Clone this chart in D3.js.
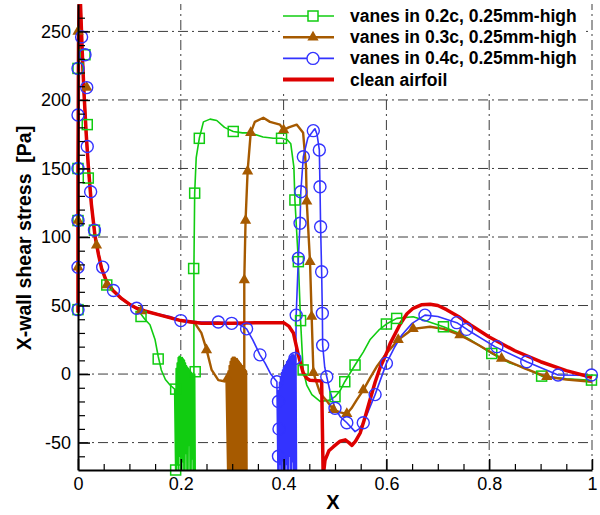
<!DOCTYPE html>
<html><head><meta charset="utf-8">
<script src="https://cdn.jsdelivr.net/npm/d3@7"></script>
<style>body{margin:0;background:#fff;} svg{display:block;font-family:"Liberation Sans",Arial,sans-serif;}</style>
</head><body><svg id="chart" width="600" height="515"></svg>
<script>
// ---------- data ----------
const xTicks = [0, 0.2, 0.4, 0.6, 0.8, 1];
const xTickLabels = ["0", "0.2", "0.4", "0.6", "0.8", "1"];
const xMinorTicks = [0.05,0.1,0.15,0.25,0.3,0.35,0.45,0.5,0.55,0.65,0.7,0.75,0.85,0.9,0.95];
const yTicks = [-50, 0, 50, 100, 150, 200, 250];
const yTickLabels = ["-50", "0", "50", "100", "150", "200", "250"];
const yMinorTicks = [-60,-40,-30,-20,-10,10,20,30,40,60,70,80,90,110,120,130,140,160,170,180,190,210,220,230,240,260];
const seriesNames = ["vanes in 0.2c, 0.25mm-high", "vanes in 0.3c, 0.25mm-high", "vanes in 0.4c, 0.25mm-high", "clean airfoil"];

const leadingEdge = [[0,45],[0,150],[0.001,240],[0.003,290],[0.006,258],[0.009,228],[0.0117,205],[0.016,175],[0.02,152],[0.026,124],[0.033,101],[0.04,87],[0.046,77],[0.055,68],[0.068,61],[0.085,55],[0.1,51],[0.114,48]];

const cleanTail = [[0.13,46],[0.16,43],[0.18,41],[0.2,39],[0.24,37],[0.3,37],[0.36,37.5],[0.4,37.5],[0.41,35],[0.419,30],[0.425,20],[0.4286,14],[0.438,1],[0.445,-3],[0.451,-4.5],[0.474,-5],[0.4755,-40],[0.477,-75],[0.4805,-63],[0.488,-56],[0.497,-53],[0.51,-49],[0.52,-48],[0.527,-50],[0.533,-52],[0.54,-49],[0.549,-43],[0.558,-32],[0.568,-19],[0.578,-6],[0.588,5],[0.6,15],[0.607,22],[0.626,36],[0.64,44],[0.652,48],[0.668,50.5],[0.685,51],[0.7,50],[0.717,47],[0.74,42],[0.763,36],[0.8,27],[0.82,23],[0.85,17],[0.9,9],[0.95,2.5],[1,-2.5]];

const green02Tail = [[0.122,44],[0.13,40],[0.14,36],[0.15,25],[0.156,13],[0.162,3],[0.17,-4],[0.179,-8],[0.188,-11],
 [0.190,-70],[0.191,4],[0.192,-70],[0.193,8],[0.194,-66],[0.195,12],[0.196,-70],[0.197,13],[0.198,-60],[0.199,13],[0.200,-70],[0.201,12],[0.202,-70],[0.203,12],[0.204,-64],[0.205,11],[0.206,-70],[0.207,10],[0.208,-70],[0.209,8],[0.210,-58],[0.211,6],[0.212,-70],[0.213,5],[0.214,-70],[0.215,4],[0.216,-52],[0.217,3],[0.218,-70],[0.219,2],[0.220,-70],[0.221,1],[0.222,-62],[0.223,0],[0.224,-70],[0.225,1],[0.226,-70],[0.227,0],[0.228,-70],[0.2255,-70],
 [0.2255,20],[0.2255,77],[0.227,132],[0.23,158],[0.236,172],[0.244,184],[0.257,186],[0.27,185],[0.285,180],[0.302,177],[0.32,176],[0.334,176],[0.36,173],[0.38,172],[0.396,172],[0.407,171],[0.414,168],[0.42,151],[0.422,127],[0.4287,82],[0.433,39],[0.438,3],[0.445,-8],[0.455,-15],[0.471,-20],[0.49,-19],[0.5,-16.5],[0.51,-12],[0.519,-5.6],[0.539,6.6],[0.555,16],[0.568,25],[0.585,32],[0.6,36.5],[0.62,40.6],[0.652,41.8],[0.672,39.4],[0.711,34.5],[0.74,30],[0.763,25],[0.805,15],[0.84,8],[0.866,5],[0.902,-1.5],[0.95,-3.5],[1,-4.5]];

const brown03Tail = [[0.13,46],[0.16,43],[0.2,39],[0.2276,37],[0.24,30],[0.25,18],[0.26,3],[0.273,-4.4],[0.289,-5.6],
 [0.292,-70],[0.293,2],[0.294,-70],[0.295,6],[0.296,-66],[0.297,9],[0.298,-70],[0.299,11],[0.300,-70],[0.301,12],[0.302,-62],[0.303,12],[0.304,-70],[0.305,12],[0.306,-70],[0.307,11],[0.308,-68],[0.309,11],[0.310,-70],[0.311,10],[0.312,-70],[0.313,9],[0.314,-60],[0.315,8],[0.316,-70],[0.317,7],[0.318,-70],[0.319,6],[0.320,-64],[0.321,5],[0.322,-70],[0.323,4],[0.324,-70],[0.325,3],[0.326,-70],[0.327,2],[0.328,-70],[0.3235,-70],
 [0.3235,40],[0.3235,68.6],[0.326,112],[0.33,148],[0.336,176],[0.344,184],[0.3606,187],[0.3735,184],[0.393,182],[0.4,178],[0.41,180],[0.4254,182],[0.438,176],[0.4436,151],[0.445,126],[0.4514,82],[0.4546,42],[0.458,1],[0.464,-6],[0.471,-14],[0.485,-20],[0.497,-26],[0.51,-28],[0.523,-29],[0.532,-25],[0.542,-19],[0.555,-11.7],[0.568,-3],[0.581,5.3],[0.6,15],[0.623,25],[0.652,33],[0.685,34.5],[0.711,33],[0.743,28.5],[0.78,21],[0.824,11.4],[0.87,4],[0.912,-2],[0.95,-4],[1,-5.6]];

const blue04Tail = [[0.14,45],[0.179,42],[0.2,39],[0.24,38],[0.273,38],[0.299,37],[0.315,36],[0.328,33],[0.34,25],[0.354,14],[0.364,8],[0.375,0],[0.387,-5.6],
 [0.389,-70],[0.390,-12],[0.391,-70],[0.392,-6],[0.393,-66],[0.394,-2],[0.395,-70],[0.396,1],[0.397,-70],[0.398,3],[0.399,-62],[0.400,5],[0.401,-70],[0.402,6],[0.403,-70],[0.404,7],[0.405,-66],[0.406,9],[0.407,-70],[0.408,10],[0.409,-70],[0.410,11],[0.411,-60],[0.412,12],[0.413,-70],[0.414,13],[0.415,-70],[0.416,14],[0.417,-64],[0.418,14],[0.419,-70],[0.420,14],[0.421,-70],[0.422,13],[0.423,-70],[0.424,12],[0.425,-70],[0.4235,-70],
 [0.4235,11],[0.4245,43],[0.4287,84.5],[0.432,110],[0.4335,133],[0.4384,158.6],[0.447,172],[0.4578,177.6],[0.461,179],[0.465,175],[0.4695,163.5],[0.4708,136.7],[0.472,107.5],[0.474,74.7],[0.4754,44.3],[0.476,21],[0.48,5],[0.484,-2],[0.49,-12],[0.5,-25],[0.51,-31],[0.523,-35.5],[0.539,-42],[0.547,-40],[0.555,-35.5],[0.565,-27],[0.578,-15],[0.6,7.8],[0.615,19],[0.63,28.5],[0.65,37],[0.675,43],[0.7,42],[0.737,37.5],[0.759,32],[0.811,20],[0.873,9],[0.934,-0.7],[1,-1]];

const greenMarks = [[0,47],[0,112],[0,150],[0,223],[0.0136,233],[0.018,182],[0.02,143],[0.032,105],[0.056,65],[0.1226,42],[0.156,11],[0.19,-11],[0.19,-70],[0.228,1.7],[0.225,77],[0.227,132],[0.236,172],[0.302,177],[0.396,172],[0.422,127],[0.4287,82],[0.433,39],[0.438,3],[0.5,-16.5],[0.519,-5.6],[0.539,6.6],[0.6,36.5],[0.62,40.6],[0.711,34.5],[0.805,15],[0.902,-1.5],[0.999,-4.4]];
const brownMarks = [[0,250],[0,112],[0,78],[0.017,209],[0.036,94],[0.056,65],[0.1226,46],[0.25,17.5],[0.291,-3],[0.3235,68.6],[0.326,112],[0.33,148],[0.336,176],[0.4,178],[0.445,126],[0.4514,82],[0.4546,42],[0.458,1],[0.497,-26],[0.523,-29],[0.555,-11.7],[0.623,25],[0.652,33],[0.743,28.5],[0.824,11.4],[0.912,-2]];
const blueMarks = [[0,47],[0,78],[0,112],[0,150],[0,189],[0,223],[0.007,246],[0.0136,233],[0.017,209],[0.018,166],[0.0246,133],[0.032,105],[0.048,78],[0.069,61],[0.114,48],[0.2,39],[0.273,38],[0.299,37],[0.328,33],[0.354,14],[0.387,-5.6],[0.39,-20],[0.391,-40],[0.39,-60],[0.422,11.4],[0.4245,43],[0.4287,84.5],[0.432,110],[0.4335,133],[0.4384,158.6],[0.4578,177.6],[0.4695,163.5],[0.4708,136.7],[0.472,107.5],[0.474,74.7],[0.4754,44.3],[0.476,21],[0.484,-2],[0.5,-25],[0.523,-35.5],[0.555,-35.5],[0.578,-15],[0.6,7.8],[0.675,43],[0.737,37.5],[0.756,32.6],[0.815,20],[0.873,9],[0.934,-0.7],[0.999,-0.7]];

const clean = leadingEdge.concat(cleanTail);
const vanes02 = leadingEdge.concat(green02Tail);
const vanes03 = leadingEdge.concat(brown03Tail);
const vanes04 = leadingEdge.concat(blue04Tail);

// ---------- drawing ----------
const colors = ["#11cc11", "#a65a00", "#3333ff", "#dd0000"];
const svg = d3.select("#chart");
const x = d3.scaleLinear().domain([0, 1]).range([78, 592]);
const y = d3.scaleLinear().domain([-70, 270]).range([470, 4]);

svg.append("defs").append("clipPath").attr("id", "plotclip")
  .append("rect").attr("x", 76).attr("y", y(270)).attr("width", 520).attr("height", y(-70) - y(270));

// gridlines
const grid = svg.append("g").attr("stroke", "#3c3c3c").attr("stroke-width", 1).attr("stroke-dasharray", "10,4,2,4");
grid.selectAll(".vg").data(xTicks.filter(d => d > 0)).join("line")
  .attr("x1", d => x(d)).attr("x2", d => x(d)).attr("y1", y(-70)).attr("y2", y(270));
grid.selectAll(".hg").data(yTicks).join("line")
  .attr("x1", x(0)).attr("x2", x(1)).attr("y1", d => y(d)).attr("y2", d => y(d));

// legend background
svg.append("rect").attr("x", 280).attr("y", 0).attr("width", 306).attr("height", 93).attr("fill", "#fff");

const line = d3.line().x(d => x(d[0])).y(d => y(d[1]));
const plot = svg.append("g").attr("clip-path", "url(#plotclip)");
plot.append("path").datum(vanes02).attr("d", line).attr("fill", "none").attr("stroke", colors[0]).attr("stroke-width", 1.6).attr("stroke-linejoin", "round");
plot.append("path").datum(vanes03).attr("d", line).attr("fill", "none").attr("stroke", colors[1]).attr("stroke-width", 2.4).attr("stroke-linejoin", "round");
plot.append("path").datum(vanes04).attr("d", line).attr("fill", "none").attr("stroke", colors[2]).attr("stroke-width", 1.6).attr("stroke-linejoin", "round");

const inRange = d => d[1] >= -71 && d[1] <= 271;
const mk = svg.append("g");
mk.selectAll(".sq").data(greenMarks.filter(inRange)).join("rect")
  .attr("x", d => x(d[0]) - 5).attr("y", d => y(d[1]) - 5).attr("width", 10).attr("height", 10)
  .attr("fill", "none").attr("stroke", colors[0]).attr("stroke-width", 1.5);
mk.selectAll(".tr").data(brownMarks.filter(inRange)).join("path")
  .attr("d", d3.symbol(d3.symbolTriangle, 55)).attr("transform", d => `translate(${x(d[0])},${y(d[1])})`)
  .attr("fill", colors[1]);
mk.selectAll(".ci").data(blueMarks.filter(inRange)).join("circle")
  .attr("cx", d => x(d[0])).attr("cy", d => y(d[1])).attr("r", 6)
  .attr("fill", "none").attr("stroke", colors[2]).attr("stroke-width", 1.4);

plot.append("path").datum(clean).attr("d", line).attr("fill", "none").attr("stroke", colors[3]).attr("stroke-width", 3.5).attr("stroke-linejoin", "round");

// axes
const axStyle = g => {
  g.select(".domain").attr("stroke", "#000").attr("stroke-width", 2);
  g.selectAll(".tick line").attr("stroke", "#000").attr("stroke-width", 1.5);
  g.selectAll("text").attr("fill", "#000").attr("font-size", 18).attr("font-family", "'Liberation Sans', Arial, sans-serif");
};
svg.append("g").attr("transform", `translate(0,${y(-70)})`)
  .call(d3.axisBottom(x).tickValues(xMinorTicks).tickSizeInner(-6).tickSizeOuter(0).tickFormat(""))
  .call(g => g.select(".domain").remove())
  .call(g => g.selectAll(".tick line").attr("stroke", "#000").attr("stroke-width", 1.2));
svg.append("g").attr("transform", `translate(${x(0)},0)`)
  .call(d3.axisLeft(y).tickValues(yMinorTicks).tickSizeInner(-7).tickSizeOuter(0).tickFormat(""))
  .call(g => g.select(".domain").remove())
  .call(g => g.selectAll(".tick line").attr("stroke", "#000").attr("stroke-width", 1.2));
svg.append("g").attr("transform", `translate(0,${y(-70)})`)
  .call(d3.axisBottom(x).tickValues(xTicks).tickFormat((d, i) => xTickLabels[i]).tickSizeInner(-11).tickSizeOuter(0).tickPadding(7))
  .call(axStyle);
svg.append("g").attr("transform", `translate(${x(0)},0)`)
  .call(d3.axisLeft(y).tickValues(yTicks).tickFormat((d, i) => yTickLabels[i]).tickSizeInner(-12).tickSizeOuter(0).tickPadding(7))
  .call(axStyle);

// titles
svg.append("text").attr("x", 333).attr("y", 509).attr("text-anchor", "middle")
  .attr("font-size", 20).attr("font-weight", "bold").text("X");
svg.append("text").attr("transform", "translate(31,238) rotate(-90)").attr("text-anchor", "middle")
  .attr("font-size", 19.5).attr("font-weight", "bold").attr("xml:space", "preserve").style("white-space", "pre")
  .text("X-wall shear stress  [Pa]");

// legend
const legendRows = [0, 1, 2, 3];
const leg = svg.append("g");
const rowY = i => 16 + i * 21.2;
leg.selectAll(".ll").data(legendRows).join("line")
  .attr("x1", 283).attr("x2", 334).attr("y1", i => rowY(i)).attr("y2", i => rowY(i))
  .attr("stroke", i => colors[i]).attr("stroke-width", i => [1.6, 2.4, 1.6, 4][i]);
leg.append("rect").attr("x", 308).attr("y", rowY(0) - 5).attr("width", 10).attr("height", 10)
  .attr("fill", "#fff").attr("stroke", colors[0]).attr("stroke-width", 1.5);
leg.append("path").attr("d", d3.symbol(d3.symbolTriangle, 55)).attr("transform", `translate(313,${rowY(1)})`).attr("fill", colors[1]);
leg.append("circle").attr("cx", 313).attr("cy", rowY(2)).attr("r", 6).attr("fill", "#fff").attr("stroke", colors[2]).attr("stroke-width", 1.4);
leg.selectAll(".lt").data(legendRows).join("text")
  .attr("x", 350).attr("y", i => rowY(i) + 6).attr("font-size", 17.5).attr("font-weight", "bold")
  .text(i => seriesNames[i]);
</script></body></html>
